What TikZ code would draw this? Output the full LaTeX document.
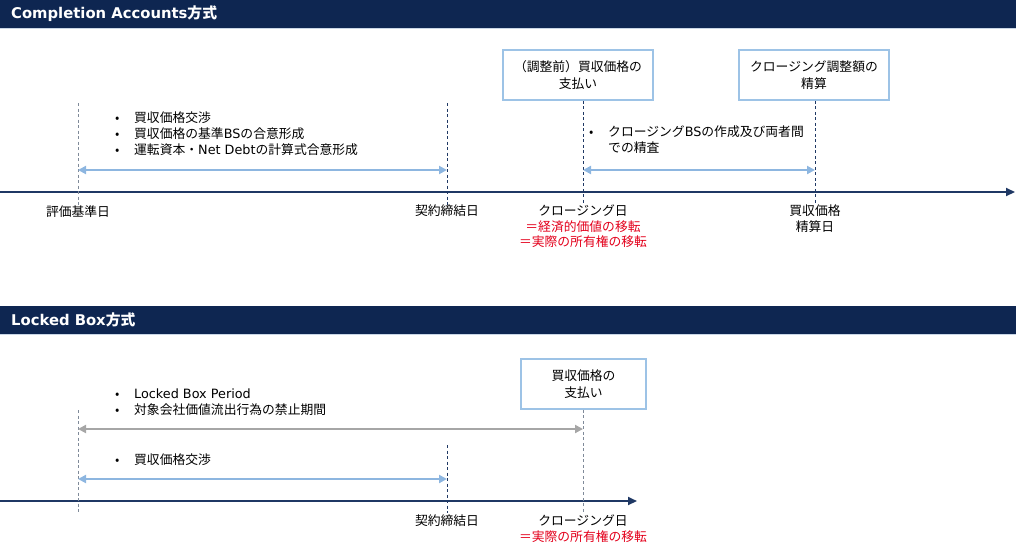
\documentclass[tikz,border=0pt]{standalone}
\usepackage{fontspec}
\setmainfont{Noto Sans CJK JP}
\newfontfamily\hdfont{DejaVu Sans}
\newfontfamily\latfont{DejaVu Sans}
\usetikzlibrary{arrows.meta}
\definecolor{navy}{HTML}{0E2651}
\definecolor{axis}{HTML}{1F3864}
\definecolor{lblue}{HTML}{9DC3E6}
\definecolor{arrblue}{HTML}{8DB6E0}
\definecolor{agray}{HTML}{A6A6A6}
\definecolor{dgray}{HTML}{7F8A99}
\definecolor{red1}{HTML}{E3001B}
\definecolor{hline}{HTML}{C9D6E6}
\tikzset{
  hdr/.style={fill=navy, draw=none, anchor=north west, minimum width=1016, minimum height=28, inner sep=0},
  hdrtext/.style={anchor=west, text=white, inner sep=0, font=\bfseries\fontsize{14.8}{16}\selectfont},
  lbl/.style={font=\fontsize{12.8}{15.5}\selectfont, align=center, inner sep=0, anchor=north},
  bul/.style={font=\fontsize{12.8}{16}\selectfont, align=left, inner sep=0, anchor=west},
  evbox/.style={draw=lblue, line width=1.5pt, minimum height=50, align=center, fill=white, inner sep=0, font=\fontsize{12.8}{16.5}\selectfont},
  timeline/.style={draw=axis, line width=2pt, -{Triangle[length=9pt,width=8pt]}},
  vdash/.style={line width=0.9pt, dash pattern=on 3pt off 2.5pt},
  span/.style={line width=2pt, {Triangle[length=8pt,width=8pt]}-{Triangle[length=8pt,width=8pt]}}
}
\newcommand{\bl}{\makebox[19pt][l]{•}}
\newcommand{\lt}[1]{{\latfont #1}}
\begin{document}
\begin{tikzpicture}[x=1pt,y=-1pt]
\useasboundingbox (0,0) rectangle (1024,557);
% ===== Section 1 =====
\node[hdr] (h1) at (0,0) {};
\draw[hline, line width=1pt] (0,28.5) -- (1016,28.5);
\node[hdrtext] (h1t) at (11,14) {{\hdfont\bfseries Completion Accounts}方式};

\coordinate (t1s) at (0,192);
\coordinate (t1e) at (1015,192);
\draw[timeline] (t1s) -- (t1e);

\node[evbox, minimum width=150] (b1) at (578,75) {（調整前）買収価格の\\支払い};
\node[evbox, minimum width=150] (b2) at (814,75) {クロージング調整額の\\精算};

\coordinate (d1a) at (78,103); \coordinate (d1b) at (78,205);
\coordinate (d2a) at (447,103); \coordinate (d2b) at (447,205);
\coordinate (d3b) at (583,205);
\coordinate (d4b) at (815,205);
\draw[vdash, dgray] (d1a) -- (d1b);
\draw[vdash, axis] (d2a) -- (d2b);
\draw[vdash, axis] (b1.south -| d3b) -- (d3b);
\draw[vdash, axis] (b2.south -| d4b) -- (d4b);

\coordinate (s1a) at (78,170); \coordinate (s1b) at (447,170);
\coordinate (s2a) at (583,170); \coordinate (s2b) at (815,170);
\draw[span, arrblue] (s1a) -- (s1b);
\draw[span, arrblue] (s2a) -- (s2b);

\node[bul] (n1) at (115,134) {\bl 買収価格交渉\\\bl 買収価格の基準\lt{BS}の合意形成\\\bl 運転資本・\lt{Net Debt}の計算式合意形成};
\node[bul] (n2) at (589,139.5) {\bl クロージング\lt{BS}の作成及び両者間\\\makebox[19pt][l]{}での精査};

\node[lbl] (l1) at (78,205) {評価基準日};
\node[lbl] (l2) at (447,205) {契約締結日};
\node[lbl] (l3) at (583,205) {クロージング日\\{\color{red1}＝経済的価値の移転}\\{\color{red1}＝実際の所有権の移転}};
\node[lbl] (l4) at (815,205) {買収価格\\精算日};

% ===== Section 2 =====
\node[hdr] (h2) at (0,306) {};
\draw[hline, line width=1pt] (0,334.5) -- (1016,334.5);
\node[hdrtext] (h2t) at (11,320) {{\hdfont\bfseries Locked Box}方式};

\coordinate (t2s) at (0,501);
\coordinate (t2e) at (637,501);
\draw[timeline] (t2s) -- (t2e);

\node[evbox, minimum width=125] (b3) at (583.5,384) {買収価格の\\支払い};

\coordinate (e1a) at (78,410); \coordinate (e1b) at (78,513);
\coordinate (e2a) at (447,445); \coordinate (e2b) at (447,513);
\coordinate (e3b) at (583,513);
\draw[vdash, dgray] (e1a) -- (e1b);
\draw[vdash, axis] (e2a) -- (e2b);
\draw[vdash, dgray] (b3.south -| e3b) -- (e3b);

\coordinate (g1a) at (78,429); \coordinate (g1b) at (583,429);
\coordinate (g2a) at (78,479); \coordinate (g2b) at (447,479);
\draw[span, agray] (g1a) -- (g1b);
\draw[span, arrblue] (g2a) -- (g2b);

\node[bul] (n3) at (115,402) {\bl \lt{Locked Box Period}\\\bl 対象会社価値流出行為の禁止期間};
\node[bul] (n4) at (115,460) {\bl 買収価格交渉};

\node[lbl] (l5) at (447,515) {契約締結日};
\node[lbl] (l6) at (583,515) {クロージング日\\{\color{red1}＝実際の所有権の移転}};
\end{tikzpicture}
\end{document}
